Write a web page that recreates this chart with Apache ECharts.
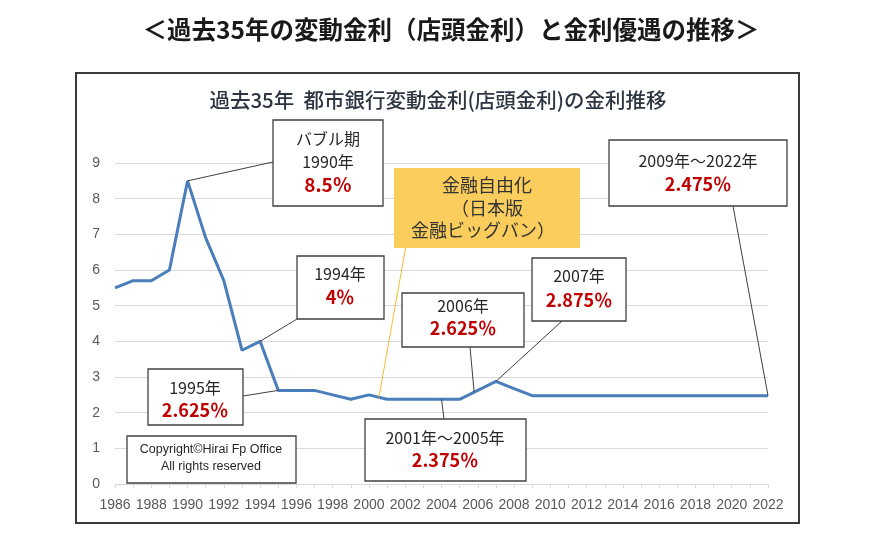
<!DOCTYPE html>
<html><head><meta charset="utf-8">
<script src="https://cdn.jsdelivr.net/npm/echarts@6/dist/echarts.min.js"></script>
<style>html,body{margin:0;padding:0;background:#fff}#c{width:893px;height:550px}</style>
</head><body><div id="c"></div>
<script>
// ---- data ----
const years = ['1986','1987','1988','1989','1990','1991','1992','1993','1994','1995',
  '1996','1997','1998','1999','2000','2001','2002','2003','2004','2005',
  '2006','2007','2008','2009','2010','2011','2012','2013','2014','2015',
  '2016','2017','2018','2019','2020','2021','2022'];
const rates = [5.5,5.7,5.7,6.0,8.5,6.9,5.7,3.75,4.0,2.625,
  2.625,2.625,2.5,2.375,2.5,2.375,2.375,2.375,2.375,2.375,
  2.625,2.875,2.675,2.475,2.475,2.475,2.475,2.475,2.475,2.475,
  2.475,2.475,2.475,2.475,2.475,2.475,2.475];
const yMin = 0, yMax = 9, yStep = 1;
const mainTitle = '＜過去35年の変動金利（店頭金利）と金利優遇の推移＞';
const chartTitle = '過去35年  都市銀行変動金利(店頭金利)の金利推移';
const copyrightLines = ['Copyright©Hirai Fp Office', 'All rights reserved'];

// annotation texts (box layout kept separately below)
const noteBubble = ['バブル期', '1990年', '8.5％'];
const note1994 = ['1994年', '4％'];
const note1995 = ['1995年', '2.625％'];
const note2006 = ['2006年', '2.625％'];
const note2007 = ['2007年', '2.875％'];
const note2001 = ['2001年～2005年', '2.375％'];
const note2009 = ['2009年～2022年', '2.475％'];
const noteBigBang = ['金融自由化', '（日本版', '金融ビッグバン）'];

const chart = echarts.init(document.getElementById('c'), null, {renderer:'canvas'});
chart.setOption({
  animation: false,
  backgroundColor: '#fff',
  grid: {left: 115, right: 125, top: 163, bottom: 66},
  xAxis: {
    type: 'category', data: years, boundaryGap: false,
    axisLine: {lineStyle: {color: '#d9d9d9', width: 1}},
    axisTick: {show: true, interval: 0, length: 4, lineStyle: {color: '#d9d9d9'}},
    axisLabel: {interval: 1, color: '#595959', fontSize: 14, fontFamily: 'Liberation Sans', margin: 14}
  },
  yAxis: {
    type: 'value', min: yMin, max: yMax, interval: yStep,
    axisLine: {show: false}, axisTick: {show: false},
    splitLine: {lineStyle: {color: '#d9d9d9', width: 1}},
    axisLabel: {color: '#595959', fontSize: 14, fontFamily: 'Liberation Sans', margin: 15}
  },
  series: [{
    type: 'line', data: rates, showSymbol: false, symbol: 'none',
    lineStyle: {color: '#4a7ebb', width: 3}, z: 3
  }]
});

const P = i => chart.convertToPixel({seriesIndex: 0}, [i, rates[i]]);
const L = (i, t) => { const a = P(i), b = P(i + 1); return [a[0] + (b[0]-a[0])*t, a[1] + (b[1]-a[1])*t]; };
const idx = y => years.indexOf(y);

const CJK = '"Noto Sans CJK JP", "Noto Sans", sans-serif';
const g = [];
function line(a, b, color) {
  g.push({type: 'line', shape: {x1: a[0], y1: a[1], x2: b[0], y2: b[1]}, style: {stroke: color || '#404040', lineWidth: 1}, z: 8});
}
function txt(s, x, y, font, fill) {
  g.push({type: 'text', x: x, y: y, style: {text: s, font: font, fill: fill || '#262626', align: 'center', verticalAlign: 'middle'}, z: 12});
}
function box(x, y, w, h, fill, stroke) {
  g.push({type: 'rect', shape: {x: x, y: y, width: w, height: h}, style: {fill: fill || '#fff', stroke: stroke === undefined ? '#404040' : stroke, lineWidth: 1.3}, z: 10});
}
const F_TXT = '16px ' + CJK;
const F_PCT = 'bold 18px ' + CJK;
const RED = '#c00000';

// frame
g.push({type: 'rect', shape: {x: 76, y: 73, width: 723, height: 450}, style: {fill: 'none', stroke: '#3a3a3a', lineWidth: 2}, z: 1});
// titles
txt(mainTitle, 451, 30, 'bold 24.5px ' + CJK, '#1a1a1a');
txt(chartTitle, 438, 100, '500 20.5px ' + CJK, '#2e3542');

// leader lines
line(P(idx('1990')), [273, 162]);
line(P(idx('1994')), [297, 319]);
line(P(idx('1995')), [243, 396]);
line(L(idx('2005'), 0.8), [470, 347]);
line(P(idx('2007')), [562, 321]);
line(P(idx('2004')), [444, 419]);
line(P(idx('2022')), [733, 206]);
line(L(idx('2000'), 0.55), [407, 240], '#f0c030');

// bubble box
box(273, 120, 110, 86);
txt(noteBubble[0], 328, 139, F_TXT); txt(noteBubble[1], 328, 162, F_TXT); txt(noteBubble[2], 328, 185, 'bold 19px ' + CJK, RED);
// big bang yellow
box(394, 168, 186, 80, '#facd5c', 'none');
txt(noteBigBang[0], 487, 185, '18px ' + CJK, '#333'); txt(noteBigBang[1], 487, 208, '18px ' + CJK, '#333'); txt(noteBigBang[2], 483, 230, '18px ' + CJK, '#333');
// 2009-2022
box(609, 140, 178, 66);
txt(note2009[0], 698, 161, F_TXT); txt(note2009[1], 698, 184, F_PCT, RED);
// 1994
box(297, 256, 87, 63);
txt(note1994[0], 340, 274, F_TXT); txt(note1994[1], 340, 297, F_PCT, RED);
// 2007
box(532, 258, 94, 63);
txt(note2007[0], 579, 276, F_TXT); txt(note2007[1], 579, 300, F_PCT, RED);
// 2006
box(402, 293, 122, 54);
txt(note2006[0], 463, 306, F_TXT); txt(note2006[1], 463, 328, F_PCT, RED);
// 1995
box(148, 369, 95, 56);
txt(note1995[0], 195, 388, F_TXT); txt(note1995[1], 195, 410, F_PCT, RED);
// 2001-2005
box(365, 419, 161, 62);
txt(note2001[0], 445, 438, F_TXT); txt(note2001[1], 445, 460, F_PCT, RED);
// copyright
box(127, 436, 169, 47);
txt(copyrightLines[0], 211, 450, '12.5px "Liberation Sans", sans-serif', '#262626');
txt(copyrightLines[1], 211, 467, '12.5px "Liberation Sans", sans-serif', '#262626');

chart.setOption({graphic: g});
</script></body></html>
